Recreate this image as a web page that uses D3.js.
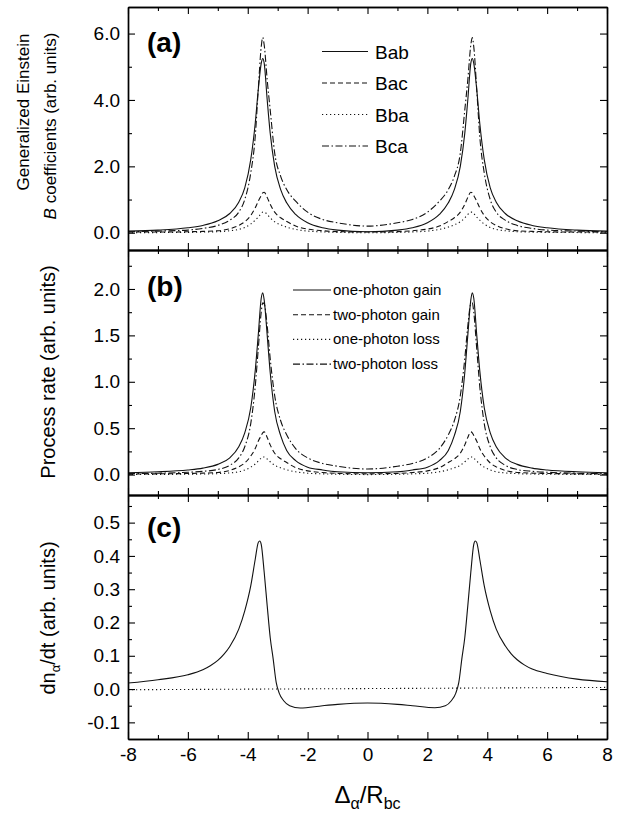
<!DOCTYPE html>
<html>
<head>
<meta charset="utf-8">
<script src="https://cdn.jsdelivr.net/npm/d3@7"></script>
<style>
  body { margin: 0; background: #fff; }
  svg { font-family: "Liberation Sans", Arial, sans-serif; }
</style>
</head>
<body>
<div id="chart"></div>
<script>
// detuning grid shared by panels (a) and (b)
const xGrid = [-8,-7,-6,-5.5,-5,-4.6,-4.3,-4.1,-3.9,-3.75,-3.65,-3.55,-3.5,-3.45,-3.35,-3.25,-3.1,-2.9,-2.7,-2.4,-2,-1.5,-1,
               0,
               1,1.5,2,2.4,2.7,2.9,3.1,3.25,3.35,3.45,3.5,3.55,3.65,3.75,3.9,4.1,4.3,4.6,5,5.5,6,7,8];

// (a) generalized Einstein B coefficients
const bAb = [0.05,0.08,0.15,0.22,0.36,0.58,0.92,1.35,2.2,3.3,4.3,5.1,5.25,5.1,4.0,3.0,2.0,1.3,0.9,0.55,0.3,0.15,0.08,
             0.03,
             0.08,0.15,0.3,0.55,0.9,1.3,2.0,3.0,4.0,5.1,5.25,5.1,4.3,3.3,2.2,1.35,0.92,0.58,0.36,0.22,0.15,0.08,0.05];
const bAc = [0.02,0.02,0.03,0.04,0.06,0.12,0.22,0.33,0.52,0.75,0.95,1.12,1.2,1.22,1.06,0.86,0.62,0.45,0.34,0.2,0.11,0.06,0.035,
             0.02,
             0.035,0.06,0.11,0.2,0.34,0.45,0.62,0.86,1.06,1.22,1.2,1.12,0.95,0.75,0.52,0.33,0.22,0.12,0.06,0.04,0.03,0.02,0.02];
const bBa = [0.0,0.005,0.01,0.02,0.03,0.06,0.1,0.16,0.26,0.38,0.47,0.58,0.62,0.62,0.55,0.45,0.33,0.24,0.17,0.1,0.05,0.025,0.01,
             0.0,
             0.01,0.025,0.05,0.1,0.17,0.24,0.33,0.45,0.55,0.62,0.62,0.58,0.47,0.38,0.26,0.16,0.1,0.06,0.03,0.02,0.01,0.005,0.0];
const bCa = [0.03,0.05,0.08,0.13,0.22,0.38,0.62,1.0,1.8,2.9,4.3,5.6,5.88,5.65,4.6,3.7,2.4,1.7,1.3,0.95,0.62,0.4,0.3,
             0.2,
             0.3,0.4,0.62,0.95,1.3,1.7,2.4,3.7,4.6,5.65,5.88,5.6,4.3,2.9,1.8,1.0,0.62,0.38,0.22,0.13,0.08,0.05,0.03];

// (b) process rates
const oneGain = [0.02,0.03,0.05,0.07,0.11,0.18,0.3,0.45,0.72,1.12,1.5,1.9,1.96,1.88,1.5,1.1,0.68,0.42,0.26,0.15,0.08,0.05,0.03,
                 0.02,
                 0.03,0.05,0.08,0.15,0.26,0.42,0.68,1.1,1.5,1.88,1.96,1.9,1.5,1.12,0.72,0.45,0.3,0.18,0.11,0.07,0.05,0.03,0.02];
const twoGain = [0.005,0.008,0.012,0.016,0.023,0.045,0.083,0.125,0.2,0.28,0.36,0.42,0.45,0.46,0.4,0.32,0.23,0.17,0.13,0.075,0.04,0.022,0.013,
                 0.008,
                 0.013,0.022,0.04,0.075,0.13,0.17,0.23,0.32,0.4,0.46,0.45,0.42,0.36,0.28,0.2,0.125,0.083,0.045,0.023,0.016,0.012,0.008,0.005];
const oneLoss = [0.0,0.002,0.004,0.006,0.01,0.018,0.03,0.05,0.08,0.115,0.145,0.178,0.19,0.19,0.168,0.138,0.1,0.073,0.052,0.03,0.015,0.008,0.004,
                 0.0,
                 0.004,0.008,0.015,0.03,0.052,0.073,0.1,0.138,0.168,0.19,0.19,0.178,0.145,0.115,0.08,0.05,0.03,0.018,0.01,0.006,0.004,0.002,0.0];
const twoLoss = [0.01,0.015,0.025,0.035,0.055,0.1,0.18,0.3,0.55,0.95,1.35,1.75,1.85,1.84,1.6,1.25,0.85,0.58,0.43,0.28,0.18,0.12,0.09,
                 0.06,
                 0.09,0.12,0.18,0.28,0.43,0.58,0.85,1.25,1.6,1.84,1.85,1.75,1.35,0.95,0.55,0.3,0.18,0.1,0.055,0.035,0.025,0.015,0.01];

// (c) dn/dt
const xGridC = [-8,-7,-6,-5.5,-5.25,-5,-4.8,-4.6,-4.3,-4.1,-3.9,-3.75,-3.65,-3.6,-3.55,-3.45,-3.35,-3.25,-3.15,-3.05,-2.95,-2.8,-2.6,-2.25,-1.5,-1,
                0,
                1,1.5,2.25,2.6,2.8,2.95,3.05,3.15,3.25,3.35,3.45,3.55,3.6,3.65,3.75,3.9,4.1,4.3,4.6,4.8,5,5.25,5.5,6,7,8];
const dndt = [0.018,0.028,0.043,0.058,0.07,0.086,0.104,0.128,0.18,0.235,0.31,0.39,0.44,0.445,0.435,0.35,0.25,0.155,0.09,0.02,-0.012,-0.035,-0.05,-0.057,-0.05,-0.046,
              -0.042,
              -0.046,-0.05,-0.056,-0.05,-0.035,-0.012,0.02,0.09,0.155,0.25,0.35,0.435,0.445,0.44,0.39,0.31,0.235,0.18,0.13,0.106,0.088,0.072,0.06,0.047,0.03,0.022];
const zeroRefX = [-8, 8];
const zeroRefY = [-0.002, 0.005];

// ticks
const xTicks = [-8,-6,-4,-2,0,2,4,6,8];
const xMinor = [-7,-5,-3,-1,1,3,5,7];
const yTicksA = [0,2,4,6], yMinorA = [1,3,5];
const yTicksB = [0,0.5,1,1.5,2], yMinorB = [0.25,0.75,1.25,1.75,2.25];
const yTicksC = [-0.1,0,0.1,0.2,0.3,0.4,0.5], yMinorC = [-0.05,0.05,0.15,0.25,0.35,0.45,0.55];

const namesA = ["Bab","Bac","Bba","Bca"];
const namesB = ["one-photon gain","two-photon gain","one-photon loss","two-photon loss"];

const DASH = {solid: null, dash: "5,3", dot: "1.2,2.8", dashdot: "7,2.5,1.5,2.5"};

const width = 636, height = 816;
const left = 128, right = 607;

const svg = d3.select("#chart").append("svg")
    .attr("width", width)
    .attr("height", height);

const x = d3.scaleLinear().domain([-8, 8]).range([left, right]);

const panels = [
  {key: "a", top: 7, bottom: 250, domain: [-0.52, 6.8], major: yTicksA, minor: yMinorA, label: "(a)", labelY: 52,
   series: [{name: namesA[0], xs: xGrid, ys: bAb, dash: DASH.solid},
            {name: namesA[1], xs: xGrid, ys: bAc, dash: DASH.dash},
            {name: namesA[2], xs: xGrid, ys: bBa, dash: DASH.dot},
            {name: namesA[3], xs: xGrid, ys: bCa, dash: DASH.dashdot}]},
  {key: "b", top: 250, bottom: 495, domain: [-0.22, 2.42], major: yTicksB, minor: yMinorB, label: "(b)", labelY: 296,
   series: [{name: namesB[0], xs: xGrid, ys: oneGain, dash: DASH.solid},
            {name: namesB[1], xs: xGrid, ys: twoGain, dash: DASH.dash},
            {name: namesB[2], xs: xGrid, ys: oneLoss, dash: DASH.dot},
            {name: namesB[3], xs: xGrid, ys: twoLoss, dash: DASH.dashdot}]},
  {key: "c", top: 495, bottom: 739, domain: [-0.15, 0.583], major: yTicksC, minor: yMinorC, label: "(c)", labelY: 537,
   series: [{name: "dndt", xs: xGridC, ys: dndt, dash: DASH.solid},
            {name: "zero", xs: zeroRefX, ys: zeroRefY, dash: DASH.dot}]}
];

const styleAxis = (g, fontSize) => {
  g.attr("font-family", "'Liberation Sans', Arial, sans-serif").attr("font-size", fontSize);
  g.select(".domain").attr("stroke", "#000").attr("stroke-width", 1.4);
  g.selectAll(".tick line").attr("stroke", "#000").attr("stroke-width", 1.1);
  g.selectAll(".tick text").attr("fill", "#000");
};

panels.forEach((p, pi) => {
  const y = d3.scaleLinear().domain(p.domain).range([p.bottom, p.top]);
  const g = svg.append("g").attr("class", "panel-" + p.key);

  g.append("clipPath").attr("id", "clip-" + p.key)
    .append("rect")
    .attr("x", left).attr("y", p.top)
    .attr("width", right - left).attr("height", p.bottom - p.top);

  const line = d3.line()
      .x(d => x(d[0]))
      .y(d => y(d[1]))
      .curve(d3.curveMonotoneX);

  g.append("g").attr("clip-path", "url(#clip-" + p.key + ")")
    .selectAll("path")
    .data(p.series)
  .enter().append("path")
    .attr("d", s => line(s.xs.map((v, i) => [v, s.ys[i]])))
    .attr("fill", "none")
    .attr("stroke", "#111")
    .attr("stroke-width", 1.1)
    .attr("stroke-dasharray", s => s.dash);

  // y axes, ticks pointing inward
  g.append("g").attr("transform", `translate(${left},0)`)
    .call(d3.axisLeft(y).tickValues(p.major).tickSize(-7).tickSizeOuter(0).tickPadding(8)
      .tickFormat(d => d.toFixed(1)))
    .call(a => styleAxis(a, 19));
  g.append("g").attr("transform", `translate(${left},0)`)
    .call(d3.axisLeft(y).tickValues(p.minor).tickSize(-4).tickSizeOuter(0).tickFormat(""))
    .call(a => styleAxis(a, 19));
  g.append("g").attr("transform", `translate(${right},0)`)
    .call(d3.axisRight(y).tickValues(p.major).tickSize(-7).tickSizeOuter(0).tickFormat(""))
    .call(a => styleAxis(a, 19));
  g.append("g").attr("transform", `translate(${right},0)`)
    .call(d3.axisRight(y).tickValues(p.minor).tickSize(-4).tickSizeOuter(0).tickFormat(""))
    .call(a => styleAxis(a, 19));

  // x axes
  g.append("g").attr("transform", `translate(0,${p.top})`)
    .call(d3.axisTop(x).tickValues(xTicks).tickSize(-7).tickSizeOuter(0).tickFormat(""))
    .call(a => styleAxis(a, 19));
  g.append("g").attr("transform", `translate(0,${p.top})`)
    .call(d3.axisTop(x).tickValues(xMinor).tickSize(-4).tickSizeOuter(0).tickFormat(""))
    .call(a => styleAxis(a, 19));
  g.append("g").attr("transform", `translate(0,${p.bottom})`)
    .call(d3.axisBottom(x).tickValues(xTicks).tickSize(-7).tickSizeOuter(0).tickPadding(9)
      .tickFormat(pi === panels.length - 1 ? (d => String(d)) : ""))
    .call(a => styleAxis(a, 19));
  g.append("g").attr("transform", `translate(0,${p.bottom})`)
    .call(d3.axisBottom(x).tickValues(xMinor).tickSize(-4).tickSizeOuter(0).tickFormat(""))
    .call(a => styleAxis(a, 19));

  g.append("text")
    .text(p.label)
    .attr("x", 147)
    .attr("y", p.labelY)
    .attr("font-size", 28)
    .attr("font-weight", "bold");
});

// legend (a)
const legA = svg.append("g").attr("class", "legend-a");
panels[0].series.forEach((s, i) => {
  const yy = 51.5 + i * 31.5;
  legA.append("line")
    .attr("x1", 322).attr("x2", 368).attr("y1", yy).attr("y2", yy)
    .attr("stroke", "#111").attr("stroke-width", 1.1)
    .attr("stroke-dasharray", s.dash);
  legA.append("text")
    .text(s.name)
    .attr("x", 375).attr("y", yy + 7)
    .attr("font-size", 19);
});

// legend (b)
const legB = svg.append("g").attr("class", "legend-b");
panels[1].series.forEach((s, i) => {
  const yy = 290 + i * 24.7;
  legB.append("line")
    .attr("x1", 293).attr("x2", 331).attr("y1", yy).attr("y2", yy)
    .attr("stroke", "#111").attr("stroke-width", 1.1)
    .attr("stroke-dasharray", s.dash);
  legB.append("text")
    .text(s.name)
    .attr("x", 333).attr("y", yy + 5)
    .attr("font-size", 15);
});

// y axis titles
svg.append("text")
    .attr("transform", "translate(29,112) rotate(-90)")
    .attr("text-anchor", "middle")
    .attr("font-size", 17)
    .text("Generalized Einstein");
const tA2 = svg.append("text")
    .attr("transform", "translate(56,126) rotate(-90)")
    .attr("text-anchor", "middle")
    .attr("font-size", 17);
tA2.append("tspan").attr("font-style", "italic").text("B");
tA2.append("tspan").text(" coefficients (arb. units)");

svg.append("text")
    .attr("transform", "translate(55,372) rotate(-90)")
    .attr("text-anchor", "middle")
    .attr("font-size", 20)
    .text("Process rate (arb. units)");

const tC = svg.append("text")
    .attr("transform", "translate(55,618) rotate(-90)")
    .attr("text-anchor", "middle")
    .attr("font-size", 20);
tC.append("tspan").text("dn");
tC.append("tspan").attr("font-size", 13).attr("dy", 5).text("α");
tC.append("tspan").attr("dy", -5).text("/dt (arb. units)");

// x axis title
const tX = svg.append("text")
    .attr("x", (left + right) / 2)
    .attr("y", 803)
    .attr("text-anchor", "middle")
    .attr("font-size", 24);
tX.append("tspan").text("Δ");
tX.append("tspan").attr("font-size", 16).attr("dy", 6).text("α");
tX.append("tspan").attr("dy", -6).text("/R");
tX.append("tspan").attr("font-size", 16).attr("dy", 6).text("bc");
</script>
</body>
</html>
